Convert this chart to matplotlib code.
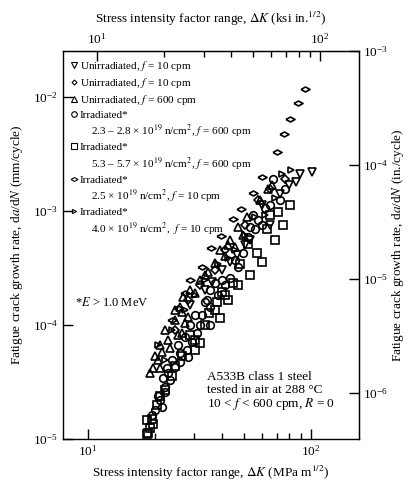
import numpy as np
import matplotlib
matplotlib.use("Agg")
import matplotlib.pyplot as plt
from matplotlib.lines import Line2D
from matplotlib.ticker import FixedLocator, LogFormatterSciNotation, NullLocator, NullFormatter

plt.rcParams["font.family"] = "serif"
plt.rcParams["font.serif"] = ["Liberation Serif", "DejaVu Serif"]
plt.rcParams["mathtext.fontset"] = "stix"

# ── Data: dK in MPa m^1/2, da/dN in mm/cycle ──
unirr10_dn_dk = [101, 86, 80, 72.6, 60, 53, 46.5, 40, 33.5, 28.7,
                 89.3, 65.5, 50.6, 43.3, 36]
unirr10_dn_rate = [2.2e-3, 1.8e-3, 1.71e-3, 1.4e-3, 1.14e-3, 5.6e-4, 4.14e-4, 3.05e-4, 2.03e-4, 1.5e-4,
                   2.1e-3, 7.6e-4, 5.07e-4, 3.6e-4, 2.4e-4]

unirr10_dia_dk = [65.5, 50.6, 41.1, 31.8, 24.5, 76.4, 57.6, 37.1, 28.1]
unirr10_dia_rate = [1.55e-3, 7.6e-4, 4.6e-4, 2.25e-4, 9.0e-5, 1.9e-3, 1.26e-3, 3.05e-4, 1.66e-4]

unirr600_dk = [51.6, 49.6, 45.6, 41.1, 37.1, 31.8, 30.2, 26.6, 26.4, 28.1, 25.9, 27.2, 25.3,
               26.4, 23.3, 21.4, 21.0, 19.6, 24.5, 22.8, 59, 64, 43.3, 34.5, 20.6,
               67, 47, 42.4, 39.1, 33.5, 28.7, 24.5, 22.1, 21.0, 19.0, 20.0]
unirr600_rate = [8.95e-4, 6.2e-4, 4.85e-4, 4.0e-4, 3.5e-4, 2.49e-4, 1.92e-4, 1.76e-4, 1.3e-4,
                 1.17e-4, 1.43e-4, 1.04e-4, 8.2e-5, 8.6e-5, 6.3e-5, 5.8e-5, 4.2e-5, 4.2e-5,
                 1.11e-4, 7.4e-5, 1.26e-3, 1.55e-3, 5.6e-4, 2.95e-4, 4.9e-5,
                 1.71e-3, 7.2e-4, 5.07e-4, 4.58e-4, 2.76e-4, 2.03e-4, 1.36e-4, 9.0e-5, 6.7e-5,
                 3.8e-5, 5.4e-5]

irr_a_dk = [67.6, 62.2, 60.5, 56.1, 53.3, 49.6, 47.0, 43.3, 41.1, 37.1, 35.2, 34.2, 33.5, 35.2,
            32.5, 31.8, 35.2, 30.8, 29.3, 27.8, 25.9, 28.1, 25.9, 24.5, 22.6, 22.8, 23.3, 22.1,
            22.1, 21.0, 21.5, 19.4, 55, 72.6,
            76.4, 65.5, 57.6, 52.2, 45.6, 40, 38.3, 30.2, 28.7, 27.2, 25.3, 23.8, 21.7, 20.6, 20]
irr_a_rate = [1.93e-3, 1.07e-3, 7.6e-4, 6.9e-4, 7.3e-4, 4.3e-4, 3.2e-4, 2.6e-4, 2.25e-4, 2.35e-4,
              2.03e-4, 1.66e-4, 1.58e-4, 1.43e-4, 1.22e-4, 1.0e-4, 1.0e-4, 8.6e-5, 7.1e-5, 6.0e-5,
              5.7e-5, 5.2e-5, 4.7e-5, 4.3e-5, 4.2e-5, 3.8e-5, 3.3e-5, 2.85e-5, 2.6e-5, 2.2e-5,
              1.9e-5, 1.61e-5, 9.3e-4, 1.26e-3,
              1.55e-3, 1.14e-3, 8.4e-4, 5.9e-4, 3.74e-4, 2.49e-4, 1.84e-4, 1.22e-4, 1.0e-4,
              7.8e-5, 6.7e-5, 4.9e-5, 3.4e-5, 2.4e-5, 1.78e-5]

irr_b_dk = [71, 63.6, 57, 44.6, 40, 37.9, 34.8, 31.8, 28.7, 22.1, 19.4, 18.6, 18.4, 19.6, 18.4,
            48.1, 52.2, 41.1, 37.1, 65.5, 30.2, 23.8,
            80.5, 74.8, 69, 60, 53.3, 47, 42.4, 39.1, 33.5, 30.2, 26.4, 24.5, 21, 20.3, 19]
irr_b_rate = [9.9e-4, 6.9e-4, 4.3e-4, 2.35e-4, 1.95e-4, 1.58e-4, 1.28e-4, 7.0e-5, 8.2e-5, 2.7e-5,
              1.5e-5, 1.14e-5, 1.46e-5, 1.36e-5, 1.1e-5, 3.4e-4, 5.1e-4, 1.84e-4, 1.36e-4,
              9.3e-4, 6.0e-5, 3.6e-5,
              1.14e-3, 7.6e-4, 5.6e-4, 3.6e-4, 2.76e-4, 2.25e-4, 1.66e-4, 1.15e-4, 1.0e-4,
              7.4e-5, 5.4e-5, 4.4e-5, 2.4e-5, 2.0e-5, 1.26e-5]

irr_c_dk = [94, 87, 80.5, 75.6, 70, 60.5, 54.8, 48.6, 44.6, 39.5, 35.6, 32.5, 28.7, 27.2, 25.3, 23.8]
irr_c_rate = [1.18e-2, 8.85e-3, 6.4e-3, 4.7e-3, 3.3e-3, 2.0e-3, 1.45e-3, 1.05e-3, 8.6e-4, 6.1e-4,
              4.7e-4, 3.2e-4, 2.5e-4, 1.9e-4, 1.4e-4, 1.1e-4]

irr_d_dk = [74, 81.6, 69, 56, 50.6, 45.6, 38.3, 30.2, 23.8, 20.6, 62.2, 42.4, 33.5, 27.2, 22.1]
irr_d_rate = [2.1e-3, 2.3e-3, 1.31e-3, 8.8e-4, 6.2e-4, 4.6e-4, 3.4e-4, 1.84e-4, 9.0e-5, 6.7e-5,
              9.3e-4, 3.9e-4, 2.49e-4, 1.36e-4, 4.9e-5]

MPA_PER_KSI = 1.0988
MM_PER_IN = 25.4

wide_diamond = [(-1, 0), (0, 0.55), (1, 0), (0, -0.55), (-1, 0)]

series = [
    (unirr10_dn_dk, unirr10_dn_rate, "v", 5.5, "Unirradiated, $f$ = 10 cpm", None),
    (unirr10_dia_dk, unirr10_dia_rate, "D", 4, "Unirradiated, $f$ = 10 cpm", None),
    (unirr600_dk, unirr600_rate, "^", 5.5, "Unirradiated, $f$ = 600 cpm", None),
    (irr_a_dk, irr_a_rate, "o", 5.5, "Irradiated*",
     r"2.3 – 2.8 × 10$^{19}$ n/cm$^{2}$, $f$ = 600 cpm"),
    (irr_b_dk, irr_b_rate, "s", 5.5, "Irradiated*",
     r"5.3 – 5.7 × 10$^{19}$ n/cm$^{2}$, $f$ = 600 cpm"),
    (irr_c_dk, irr_c_rate, wide_diamond, 6.5, "Irradiated*",
     r"2.5 × 10$^{19}$ n/cm$^{2}$, $f$ = 10 cpm"),
    (irr_d_dk, irr_d_rate, ">", 4.5, "Irradiated*",
     r"4.0 × 10$^{19}$ n/cm$^{2}$,  $f$ = 10 cpm"),
]

fig = plt.figure(figsize=(4.08, 4.82), dpi=100)
ax = fig.add_axes([0.1544, 0.0892, 0.7255, 0.805])
ax.set_xscale("log")
ax.set_yscale("log")
ax.set_xlim(7.73, 164)
ax.set_ylim(1e-5, 0.0254)

handles, labels = [], []
for dk, rate, mk, ms, lab, sub in series:
    ax.plot(dk, rate, ls="none", marker=mk, ms=ms, mfc="none", mec="k", mew=1.2)
    handles.append(Line2D([], [], ls="none", marker=mk, ms=ms - 1.5, mfc="none", mec="k", mew=0.8))
    labels.append(lab)
    if sub:
        handles.append(Line2D([], [], ls="none"))
        labels.append("    " + sub)

ax.legend(handles, labels, loc="upper left", bbox_to_anchor=(0.0, 1.0), frameon=False,
          fontsize=8, handlelength=0.6, handletextpad=0.2, labelspacing=0.28,
          borderaxespad=0.5, borderpad=0.2)

# ── Axes / ticks ──
tick_kw = dict(direction="in", labelsize=9.5, width=1.0)
ax.xaxis.set_major_locator(FixedLocator([10, 100]))
ax.xaxis.set_major_formatter(LogFormatterSciNotation())
ax.xaxis.set_minor_locator(FixedLocator([20, 30, 40, 50, 60, 70, 80, 90]))
ax.xaxis.set_minor_formatter(NullFormatter())
ax.yaxis.set_major_locator(FixedLocator([1e-5, 1e-4, 1e-3, 1e-2]))
ax.yaxis.set_major_formatter(LogFormatterSciNotation())
ax.yaxis.set_minor_locator(NullLocator())
ax.tick_params(which="major", length=7, **tick_kw)
ax.tick_params(which="minor", length=4, direction="in", width=1.0)
ax.tick_params(top=False, right=False, which="both")

top = ax.secondary_xaxis("top", functions=(lambda x: x / MPA_PER_KSI, lambda x: x * MPA_PER_KSI))
top.xaxis.set_major_locator(FixedLocator([10, 100]))
top.xaxis.set_major_formatter(LogFormatterSciNotation())
top.xaxis.set_minor_locator(FixedLocator([20, 30, 40, 50, 60, 70, 80, 90]))
top.xaxis.set_minor_formatter(NullFormatter())
top.tick_params(which="major", length=7, **tick_kw)
top.tick_params(which="minor", length=4, direction="in", width=1.0)

right = ax.secondary_yaxis("right", functions=(lambda y: y / MM_PER_IN, lambda y: y * MM_PER_IN))
right.yaxis.set_major_locator(FixedLocator([1e-6, 1e-5, 1e-4, 1e-3]))
right.yaxis.set_major_formatter(LogFormatterSciNotation())
right.yaxis.set_minor_locator(NullLocator())
right.tick_params(which="major", length=7, pad=3, **tick_kw)

for sp in ax.spines.values():
    sp.set_linewidth(1.0)

ax.set_xlabel(r"Stress intensity factor range, $\Delta K$ (MPa m$^{1/2}$)", fontsize=9.5)
ax.set_ylabel(r"Fatigue crack growth rate, d$a$/d$N$ (mm/cycle)", fontsize=9.5, labelpad=6)
top.set_xlabel(r"Stress intensity factor range, $\Delta K$ (ksi in.$^{1/2}$)", fontsize=9.5, labelpad=6)
right.set_ylabel(r"Fatigue crack growth rate, d$a$/d$N$ (in./cycle)", fontsize=9.5, labelpad=1)

ax.text(0.04, 0.353, r"*$E$ > 1.0 MeV", transform=ax.transAxes, va="center", fontsize=9)
ax.text(0.486, 0.175, "A533B class 1 steel\ntested in air at 288 °C\n10 < $f$ < 600 cpm, $R$ = 0",
        transform=ax.transAxes, va="top", ha="left", fontsize=9.5, linespacing=1.05)

fig.savefig("out.png", dpi=100)
